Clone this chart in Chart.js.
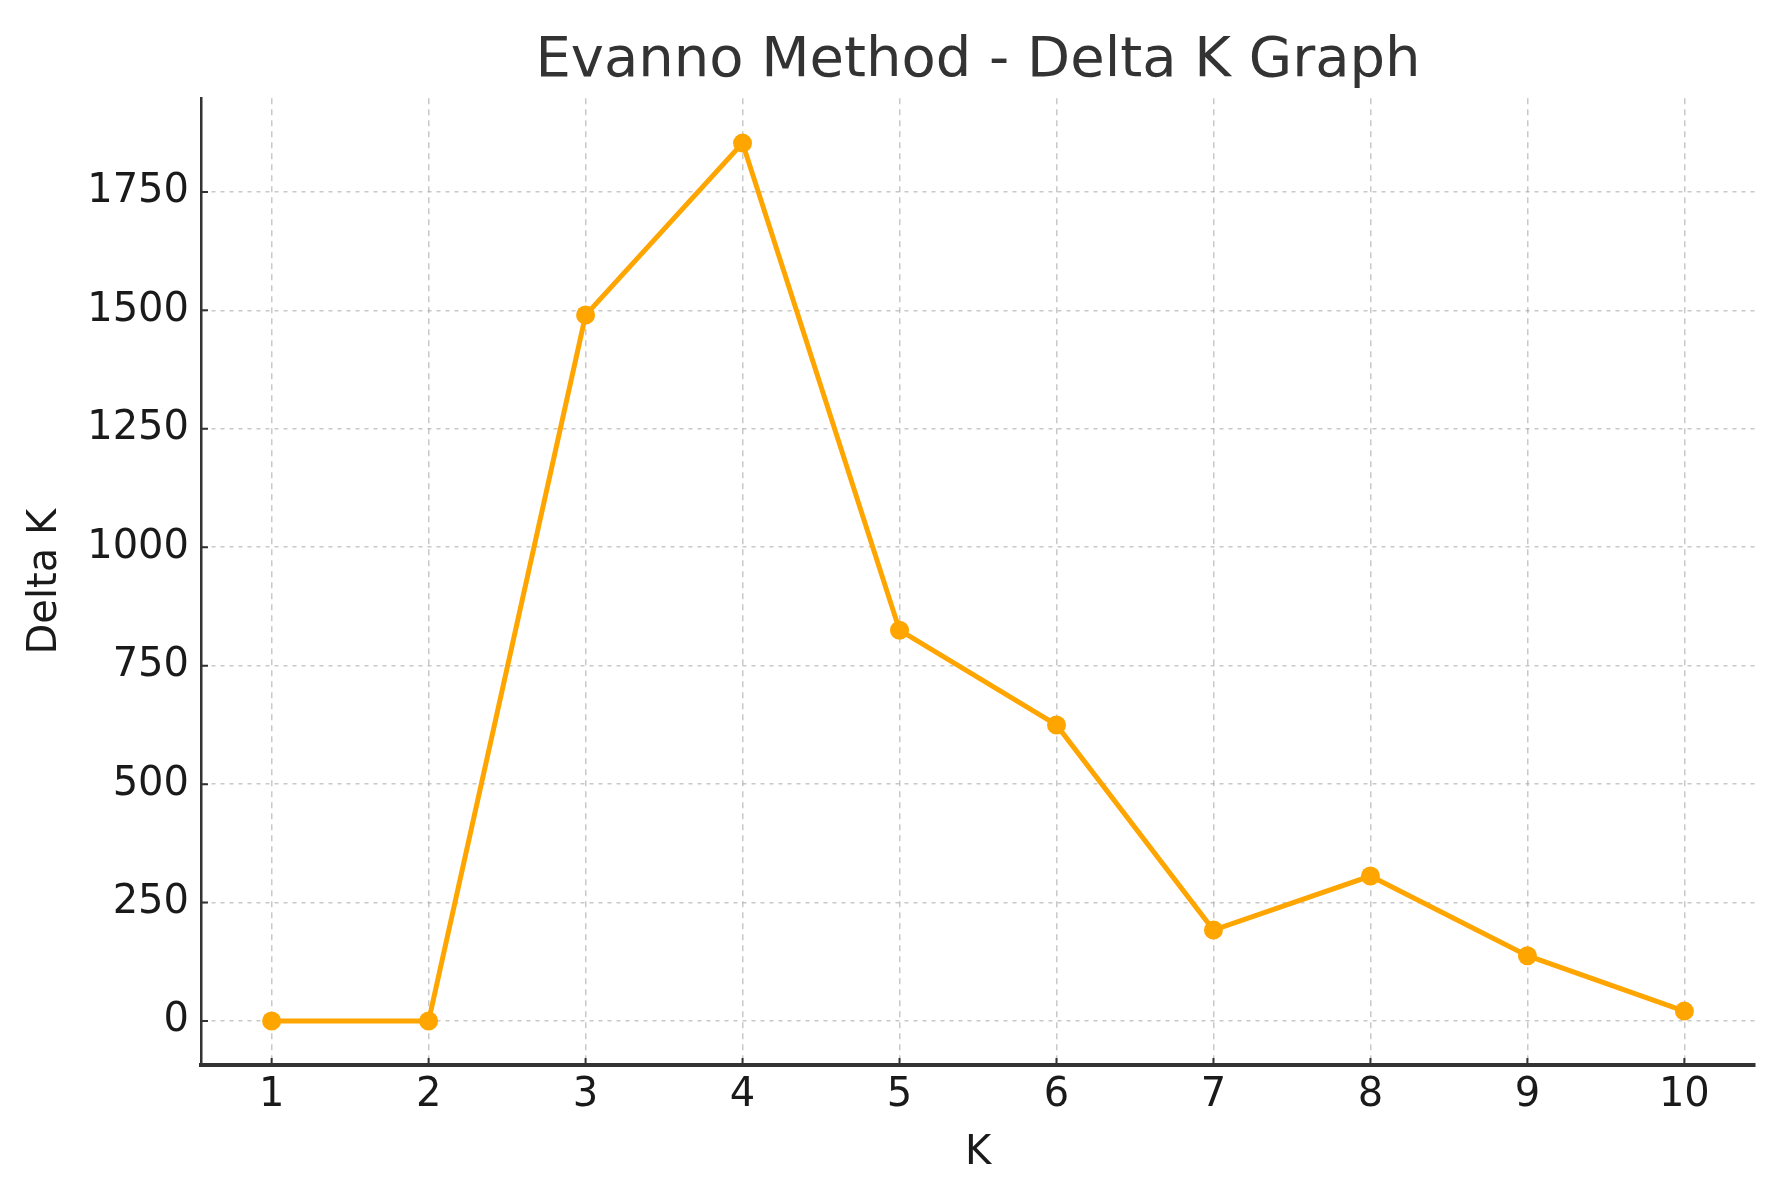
<!DOCTYPE html>
<html>
<head>
<meta charset="utf-8">
<script src="https://cdn.jsdelivr.net/npm/chart.js@4.4.1/dist/chart.umd.min.js"></script>
<style>
  html, body { margin: 0; padding: 0; background: #fff; }
  #wrap { width: 1790px; height: 1195px; }
</style>
</head>
<body>
<div id="wrap"><canvas id="chart" width="1790" height="1195"></canvas></div>
<script>
const kValues = [1, 2, 3, 4, 5, 6, 7, 8, 9, 10];
const deltaK = [0, 0, 1490, 1853, 825, 625, 192, 306, 138, 21];
const yTicks = [0, 250, 500, 750, 1000, 1250, 1500, 1750];

const ORANGE = '#FFA500';
const INK = '#1a1a1a';

Chart.defaults.font.family = "'DejaVu Sans', sans-serif";
Chart.defaults.color = INK;

// matplotlib-style short ticks pointing into the plot
const innerTicks = {
  id: 'innerTicks',
  afterDraw(chart) {
    const {ctx, chartArea, scales} = chart;
    ctx.save();
    ctx.strokeStyle = '#333';
    ctx.lineWidth = 2;
    ctx.beginPath();
    kValues.forEach(k => {
      const x = scales.x.getPixelForValue(k);
      ctx.moveTo(x, chartArea.bottom);
      ctx.lineTo(x, chartArea.bottom - 7);
    });
    yTicks.forEach(v => {
      const y = scales.y.getPixelForValue(v);
      ctx.moveTo(chartArea.left, y);
      ctx.lineTo(chartArea.left + 7, y);
    });
    ctx.stroke();
    ctx.restore();
  }
};

const config = {
  type: 'line',
  data: {
    datasets: [{
      label: 'Delta K',
      data: kValues.map((k, i) => ({x: k, y: deltaK[i]})),
      borderColor: ORANGE,
      backgroundColor: ORANGE,
      borderWidth: 5,
      pointRadius: 9.5,
      pointBorderWidth: 0,
      pointBackgroundColor: ORANGE,
      tension: 0
    }]
  },
  options: {
    responsive: false,
    animation: false,
    layout: { padding: { left: 0, right: 35, top: 0, bottom: 0 } },
    plugins: {
      legend: { display: false },
      tooltip: { enabled: false },
      title: {
        display: true,
        fullSize: false,
        text: 'Evanno Method - Delta K Graph',
        color: '#333',
        font: { size: 56, weight: 'normal' },
        padding: { top: 28, bottom: 3 }
      }
    },
    scales: {
      x: {
        type: 'linear',
        min: 0.55,
        max: 10.45,
        afterBuildTicks: s => { s.ticks = kValues.map(v => ({value: v})); },
        afterFit: s => { s.height = 130; },
        ticks: { font: { size: 40 }, color: INK, padding: 7, callback: v => String(v) },
        grid: { color: 'rgba(165,165,165,0.6)', lineWidth: 1.5, drawTicks: false },
        border: { display: true, color: '#333', width: 4, dash: [6, 5] },
        title: {
          display: true,
          text: 'K',
          font: { size: 40 },
          color: INK,
          padding: { top: 4, bottom: 17 }
        }
      },
      y: {
        min: -92.75,
        max: 1947.75,
        afterBuildTicks: s => { s.ticks = yTicks.map(v => ({value: v})); },
        afterFit: s => { s.width = 201; },
        ticks: { font: { size: 40 }, color: INK, padding: 12, callback: v => String(v) },
        grid: { color: 'rgba(165,165,165,0.6)', lineWidth: 1.5, drawTicks: false },
        border: { display: true, color: '#333', width: 2.5, dash: [4, 5] },
        title: {
          display: true,
          text: 'Delta K',
          font: { size: 40 },
          color: INK,
          padding: { top: 22, bottom: 0 }
        }
      }
    }
  },
  plugins: [innerTicks]
};

const chart = new Chart(document.getElementById('chart'), config);
</script>
</body>
</html>
